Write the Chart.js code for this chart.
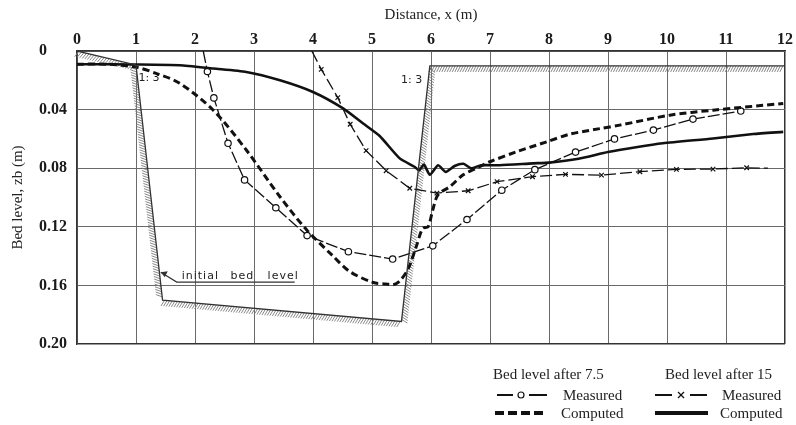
<!DOCTYPE html>
<html lang="en">
<head>
  <meta charset="UTF-8" />
  <title>Bed level profiles</title>
  <script src="https://cdn.jsdelivr.net/npm/chart.js"></script>
  <style>
    * { margin: 0; padding: 0; box-sizing: border-box; }
    html, body { width: 796px; height: 425px; background: #fff; overflow: hidden; }
    .wrap { position: relative; width: 796px; height: 425px; }
    .legend { position: absolute; font-family: 'Liberation Serif', 'Times New Roman', serif; font-size: 15px; color: #222; line-height: 18px; white-space: nowrap; }
    .sample { position: absolute; }
  </style>
</head>
<body>
<div class="wrap">
  <canvas id="bedChart" width="796" height="425"></canvas>

  <!-- legend -->
  <div class="legend" style="left:493px; top:365px;">Bed level after 7.5</div>
  <div class="legend" style="left:665px; top:365px;">Bed level after 15</div>
  <div class="legend" style="left:563px; top:386px;">Measured</div>
  <div class="legend" style="left:561px; top:404px;">Computed</div>
  <div class="legend" style="left:722px; top:386px;">Measured</div>
  <div class="legend" style="left:720px; top:404px;">Computed</div>

  <svg class="sample" style="left:495px; top:389px;" width="56" height="12">
    <line x1="2" y1="6" x2="18" y2="6" stroke="#111" stroke-width="2"/>
    <circle cx="26" cy="6" r="3" fill="#fff" stroke="#111" stroke-width="1.2"/>
    <line x1="34" y1="6" x2="52" y2="6" stroke="#111" stroke-width="2"/>
  </svg>
  <svg class="sample" style="left:495px; top:407px;" width="52" height="12">
    <line x1="0" y1="6" x2="49" y2="6" stroke="#111" stroke-width="4" stroke-dasharray="9,4"/>
  </svg>
  <svg class="sample" style="left:655px; top:389px;" width="56" height="12">
    <line x1="0" y1="6" x2="17" y2="6" stroke="#111" stroke-width="2"/>
    <line x1="23" y1="3" x2="29" y2="9" stroke="#111" stroke-width="1.2"/>
    <line x1="29" y1="3" x2="23" y2="9" stroke="#111" stroke-width="1.2"/>
    <line x1="35" y1="6" x2="52" y2="6" stroke="#111" stroke-width="2"/>
  </svg>
  <svg class="sample" style="left:655px; top:407px;" width="56" height="12">
    <line x1="0" y1="6" x2="53" y2="6" stroke="#111" stroke-width="4"/>
  </svg>
</div>

<script>
  // initial bed level
  const bedX = [0, 1.0, 1.45, 5.5, 5.98, 12];
  const bedY = [0, 0.0095, 0.17, 0.1846, 0.0102, 0.0102];

  // bed level after 7.5 - measured
  const m75X = [2.14, 2.21, 2.32, 2.56, 2.84, 3.37, 3.90, 4.60, 5.35, 6.03, 6.61, 7.20, 7.76, 8.45, 9.11, 9.77, 10.44, 11.25];
  const m75Y = [0.000, 0.014, 0.032, 0.063, 0.088, 0.107, 0.126, 0.137, 0.142, 0.133, 0.115, 0.095, 0.081, 0.069, 0.060, 0.054, 0.0465, 0.041];

  // bed level after 7.5 - computed
  const c75X = [0, 0.5, 1.0, 1.35, 1.74, 2.31, 2.87, 3.44, 3.89, 4.34, 4.62, 5.02, 5.24, 5.36, 5.47, 5.61, 5.75, 5.86, 5.95, 6.03, 6.12, 6.32, 6.54, 6.77, 7.0, 7.45, 7.96, 8.35, 8.86, 9.2, 10.05, 10.78, 11.97];
  const c75Y = [0.009, 0.009, 0.011, 0.0154, 0.022, 0.0404, 0.0676, 0.0995, 0.122, 0.140, 0.1505, 0.158, 0.159, 0.1595, 0.157, 0.149, 0.1335, 0.121, 0.12, 0.1085, 0.098, 0.0926, 0.0847, 0.080, 0.0756, 0.0688, 0.062, 0.0568, 0.053, 0.0506, 0.0438, 0.0404, 0.0358];

  // bed level after 15 - measured
  const m15X = [3.98, 4.14, 4.42, 4.63, 4.90, 5.24, 5.64, 6.10, 6.63, 7.12, 7.72, 8.28, 8.89, 9.54, 10.16, 10.78, 11.35, 11.71];
  const m15Y = [0.000, 0.0125, 0.0318, 0.050, 0.068, 0.0817, 0.0937, 0.097, 0.0954, 0.0892, 0.0858, 0.0842, 0.0847, 0.0824, 0.0808, 0.0806, 0.0797, 0.080];

  // bed level after 15 - computed
  const c15X = [0, 1.0, 1.74, 2.31, 2.87, 3.44, 4.0, 4.51, 4.85, 5.13, 5.47, 5.72, 5.80, 5.88, 5.98, 6.12, 6.25, 6.40, 6.55, 6.68, 6.85, 7.16, 7.73, 8.0, 8.5, 9.0, 9.5, 9.93, 10.78, 11.46, 11.97];
  const c15Y = [0.009, 0.0092, 0.0097, 0.012, 0.0143, 0.020, 0.028, 0.0392, 0.0495, 0.058, 0.0733, 0.079, 0.0815, 0.0775, 0.0845, 0.078, 0.0825, 0.0785, 0.077, 0.080, 0.078, 0.078, 0.0767, 0.0762, 0.0735, 0.069, 0.0655, 0.063, 0.0597, 0.0567, 0.0552];

  const xTicks = [0, 1, 2, 3, 4, 5, 6, 7, 8, 9, 10, 11, 12];
  const yTickLabels = ['0', '0.04', '0.08', '0.12', '0.16', '0.20'];

  const serif = "'Liberation Serif', 'Times New Roman', serif";
  const ink = '#111';

  function pts(xs, ys) { return xs.map((x, i) => ({ x: x, y: ys[i] })); }

  // hatching along the initial bed + small annotations
  const bedHatch = {
    id: 'bedHatch',
    beforeDatasetsDraw(chart) {
      const { ctx, scales: { x, y } } = chart;
      const p = bedX.map((v, i) => [x.getPixelForValue(v), y.getPixelForValue(bedY[i])]);
      ctx.save();
      ctx.strokeStyle = '#7a7a7a';
      ctx.lineWidth = 0.9;
      for (let i = 0; i < p.length - 1; i++) {
        const [x0, y0] = p[i], [x1, y1] = p[i + 1];
        const len = Math.hypot(x1 - x0, y1 - y0);
        const dx = (x1 - x0) / len, dy = (y1 - y0) / len;
        const nx = -dy, ny = dx;
        for (let s = 2; s < len - 1; s += 2.6) {
          const px = x0 + dx * s, py = y0 + dy * s;
          ctx.beginPath();
          ctx.moveTo(px, py);
          ctx.lineTo(px + nx * 6 - dx * 3, py + ny * 6 - dy * 3);
          ctx.stroke();
        }
      }

      // slope labels
      ctx.fillStyle = '#222';
      ctx.font = "11px 'DejaVu Sans', sans-serif";
      ctx.textAlign = 'center';
      ctx.textBaseline = 'middle';
      ctx.fillText('1: 3', x.getPixelForValue(1.22), y.getPixelForValue(0.0186));
      ctx.fillText('1: 3', x.getPixelForValue(5.67), y.getPixelForValue(0.020));

      // "initial bed level" pointer
      ctx.textAlign = 'left';
      ctx.textBaseline = 'alphabetic';
      ctx.font = "11px 'DejaVu Sans', sans-serif";
      ctx.letterSpacing = '1px';
      ctx.fillText('initial', x.getPixelForValue(1.775), y.getPixelForValue(0.1555));
      ctx.fillText('bed', x.getPixelForValue(2.6), y.getPixelForValue(0.1555));
      ctx.fillText('level', x.getPixelForValue(3.23), y.getPixelForValue(0.1555));
      ctx.letterSpacing = '0px';
      ctx.strokeStyle = '#333';
      ctx.lineWidth = 1.2;
      const ux0 = x.getPixelForValue(1.69), ux1 = x.getPixelForValue(3.69), uy = y.getPixelForValue(0.1577);
      const tx = x.getPixelForValue(1.42), ty = y.getPixelForValue(0.151);
      ctx.beginPath();
      ctx.moveTo(ux1, uy);
      ctx.lineTo(ux0, uy);
      ctx.lineTo(tx, ty);
      ctx.stroke();
      ctx.beginPath();
      ctx.moveTo(tx, ty);
      ctx.lineTo(tx + 7, ty - 1);
      ctx.lineTo(tx + 4, ty + 5);
      ctx.closePath();
      ctx.fillStyle = '#333';
      ctx.fill();
      ctx.restore();
    }
  };

  const noEnds = n => ctx => (ctx.dataIndex === 0 || ctx.dataIndex === n - 1) ? 0 : 3.2;
  // last grid line of each axis doubles as the frame, so draw it darker
  const gridCol = last => ctx => ctx.index === last ? '#333' : '#6a6a6a';
  const gridW = last => ctx => ctx.index === last ? 1.5 : 1;

  new Chart(document.getElementById('bedChart'), {
    type: 'line',
    data: {
      datasets: [
        { label: 'Initial bed level', data: pts(bedX, bedY), borderColor: '#333', borderWidth: 1.3, pointRadius: 0, tension: 0 },
        { label: 'Computed 7.5', data: pts(c75X, c75Y), borderColor: ink, borderWidth: 3, borderDash: [7, 4], pointRadius: 0, tension: 0.3 },
        { label: 'Computed 15', data: pts(c15X, c15Y), borderColor: ink, borderWidth: 2.6, pointRadius: 0, tension: 0.2 },
        { label: 'Measured 7.5', data: pts(m75X, m75Y), borderColor: ink, borderWidth: 1.3, borderDash: [12, 3],
          pointStyle: 'circle', pointRadius: ctx => ctx.dataIndex === 0 ? 0 : 3.2, pointBackgroundColor: '#fff',
          pointBorderColor: ink, pointBorderWidth: 1.2, tension: 0 },
        { label: 'Measured 15', data: pts(m15X, m15Y), borderColor: ink, borderWidth: 1.3, borderDash: [12, 4],
          pointStyle: 'crossRot', pointRadius: noEnds(m15X.length), pointBorderColor: ink, pointBorderWidth: 1.2, tension: 0 }
      ]
    },
    options: {
      responsive: false,
      animation: false,
      layout: { padding: { left: 5, right: 11, top: 0, bottom: 81 } },
      plugins: {
        legend: { display: false },
        tooltip: { enabled: false },
        title: {
          display: true, position: 'left', fullSize: false,
          text: 'Bed level, zb (m)', color: '#222',
          font: { family: serif, size: 15, weight: 'normal' },
          padding: { top: 4, bottom: 12 }
        }
      },
      scales: {
        x: {
          type: 'linear', position: 'top', min: 0, max: 12,
          afterBuildTicks: s => { s.ticks = xTicks.map(v => ({ value: v })); },
          afterFit: s => { s.height = 51; },
          ticks: { color: '#1a1a1a', padding: 2, maxRotation: 0, font: { family: serif, size: 16, weight: 'bold' } },
          grid: { color: gridCol(xTicks.length - 1), lineWidth: gridW(xTicks.length - 1), drawTicks: false },
          border: { color: '#333', width: 1.5 },
          title: { display: true, text: 'Distance, x (m)', color: '#222', font: { family: serif, size: 15 }, padding: { top: 6, bottom: 0 } }
        },
        y: {
          type: 'linear', reverse: true, min: 0, max: 0.2,
          afterBuildTicks: s => { s.ticks = yTickLabels.map(t => ({ value: parseFloat(t) })); },
          afterFit: s => { s.width = 38; },
          ticks: {
            color: '#1a1a1a', padding: 4, crossAlign: 'far', font: { family: serif, size: 16, weight: 'bold' },
            callback: (v, i) => yTickLabels[i]
          },
          grid: { color: gridCol(yTickLabels.length - 1), lineWidth: gridW(yTickLabels.length - 1), drawTicks: false },
          border: { color: '#333', width: 1.5 }
        }
      }
    },
    plugins: [bedHatch]
  });
</script>
</body>
</html>
